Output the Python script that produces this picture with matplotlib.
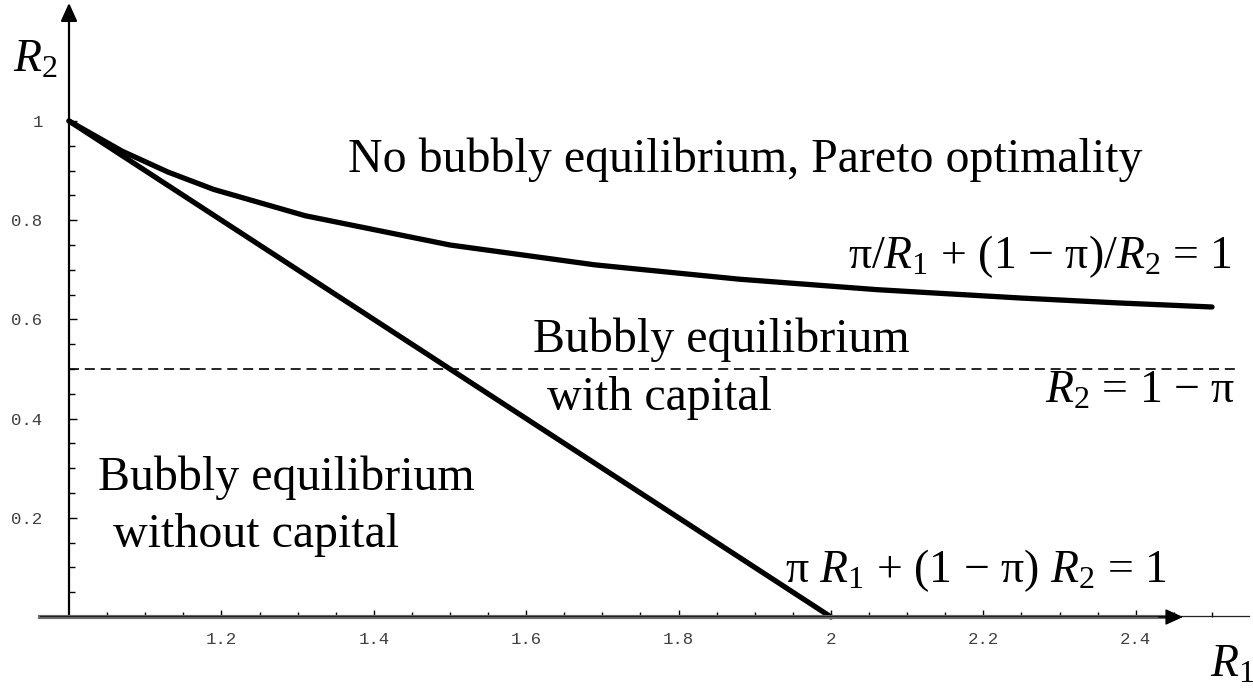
import numpy as np
import matplotlib.pyplot as plt
from matplotlib.ticker import FixedLocator, FixedFormatter

plt.rcParams['font.family'] = ['Liberation Serif', 'DejaVu Serif']
plt.rcParams['mathtext.fontset'] = 'custom'
plt.rcParams['mathtext.rm'] = 'Liberation Serif'
plt.rcParams['mathtext.it'] = 'Liberation Serif:italic'

# pi/R1 + (1-pi)/R2 = 1
r1_curve = [1.0, 1.07, 1.13, 1.19, 1.31, 1.50, 1.69, 1.88, 2.06, 2.25, 2.38, 2.5]
r2_curve = [1.0, 0.939, 0.897, 0.862, 0.809, 0.750, 0.710, 0.681, 0.660, 0.643, 0.633, 0.625]

# pi R1 + (1-pi) R2 = 1
r1_line = [1.0, 1.5, 2.0]
r2_line = [1.0, 0.5, 0.0]

# R2 = 1 - pi
r1_dash = [1.0, 2.53]
r2_dash = [0.5, 0.5]

x_major = [1.2, 1.4, 1.6, 1.8, 2.0, 2.2, 2.4]
x_labels = ['1.2', '1.4', '1.6', '1.8', '2', '2.2', '2.4']
y_major = [0.2, 0.4, 0.6, 0.8, 1.0]
y_labels = ['0.2', '0.4', '0.6', '0.8', '1']

fig = plt.figure(figsize=(12.53, 6.95), dpi=100)
ax = fig.add_axes([0, 0, 1, 1])
ax.set_xlim(1 - 69 / 762, 1 + 1184 / 762)
ax.set_ylim(-78 / 496, 617 / 496)

# curves
ax.plot(r1_curve, r2_curve, color='black', lw=3.8, solid_capstyle='round', solid_joinstyle='round')
ax.plot(r1_line, r2_line, color='black', lw=3.8, solid_capstyle='round', solid_joinstyle='round')
ax.plot(r1_dash, r2_dash, color='black', lw=1.2, dashes=(6, 3.5))

# axes through (1, 0) with arrows
for s in ['top', 'right']:
    ax.spines[s].set_visible(False)
ax.spines['left'].set_position(('data', 1.0))
ax.spines['left'].set_bounds(0, 1.22)
ax.spines['left'].set_linewidth(1.6)
ax.spines['bottom'].set_position(('data', 0.0))
ax.spines['bottom'].set_bounds(0.962, 2.45)
ax.spines['bottom'].set_linewidth(3)
ax.spines['bottom'].set_color('#6e6e6e')
ax.plot([0.962, 2.548], [0.0025, 0.0025], color='#222222', lw=0.9, zorder=3)

ax.annotate('', xy=(1.0, 1.238), xytext=(1.0, 1.2),
            arrowprops=dict(arrowstyle='-|>,head_length=1.1,head_width=0.5', color='black', lw=1.6,
                            mutation_scale=10, shrinkA=0, shrinkB=0))
ax.annotate('', xy=(2.462, 0.0), xytext=(2.43, 0.0),
            arrowprops=dict(arrowstyle='-|>,head_length=1.1,head_width=0.5', color='black', lw=1.0,
                            mutation_scale=10, shrinkA=0, shrinkB=0))

# ticks
ax.xaxis.set_major_locator(FixedLocator(x_major))
ax.xaxis.set_major_formatter(FixedFormatter(x_labels))
ax.xaxis.set_minor_locator(FixedLocator(np.round(np.arange(1.05, 2.501, 0.05), 2)))
ax.yaxis.set_major_locator(FixedLocator(y_major))
ax.yaxis.set_major_formatter(FixedFormatter(y_labels))
ax.yaxis.set_minor_locator(FixedLocator(np.round(np.arange(0.05, 0.999, 0.05), 2)))

ax.tick_params(axis='x', which='major', direction='in', length=5, width=1, pad=11,
               labelsize=12.5, labelcolor='#404040', labelfontfamily='Liberation Mono')
ax.tick_params(axis='x', which='minor', direction='in', length=3.5, width=1)
ax.tick_params(axis='y', which='major', direction='in', length=6, width=1, pad=19,
               labelsize=12.5, labelcolor='#404040', labelfontfamily='Liberation Mono')
ax.tick_params(axis='y', which='minor', direction='in', length=4, width=1)

# region labels and equations
W, H = 1253, 695


def put(px, py, s, ha='left', fs=34.5):
    fig.text(px / W, 1 - py / H, s, fontsize=fs, ha=ha, va='baseline')


put(348, 172, 'No bubbly equilibrium, Pareto optimality')
put(848, 268, 'π/$R_1$ + (1 − π)/$R_2$ = 1', fs=33)
put(533, 352, 'Bubbly equilibrium')
put(547, 410, 'with capital')
put(1235, 403, '$R_2$ = 1 − π', ha='right', fs=33)
put(98, 490, 'Bubbly equilibrium')
put(113, 547, 'without capital')
put(785, 582, 'π $R_1$ + (1 − π) $R_2$ = 1', fs=33)
put(13, 72, '$R_2$', fs=33)
put(1210, 677, '$R_1$', fs=33)

fig.savefig('out.png', dpi=100)
